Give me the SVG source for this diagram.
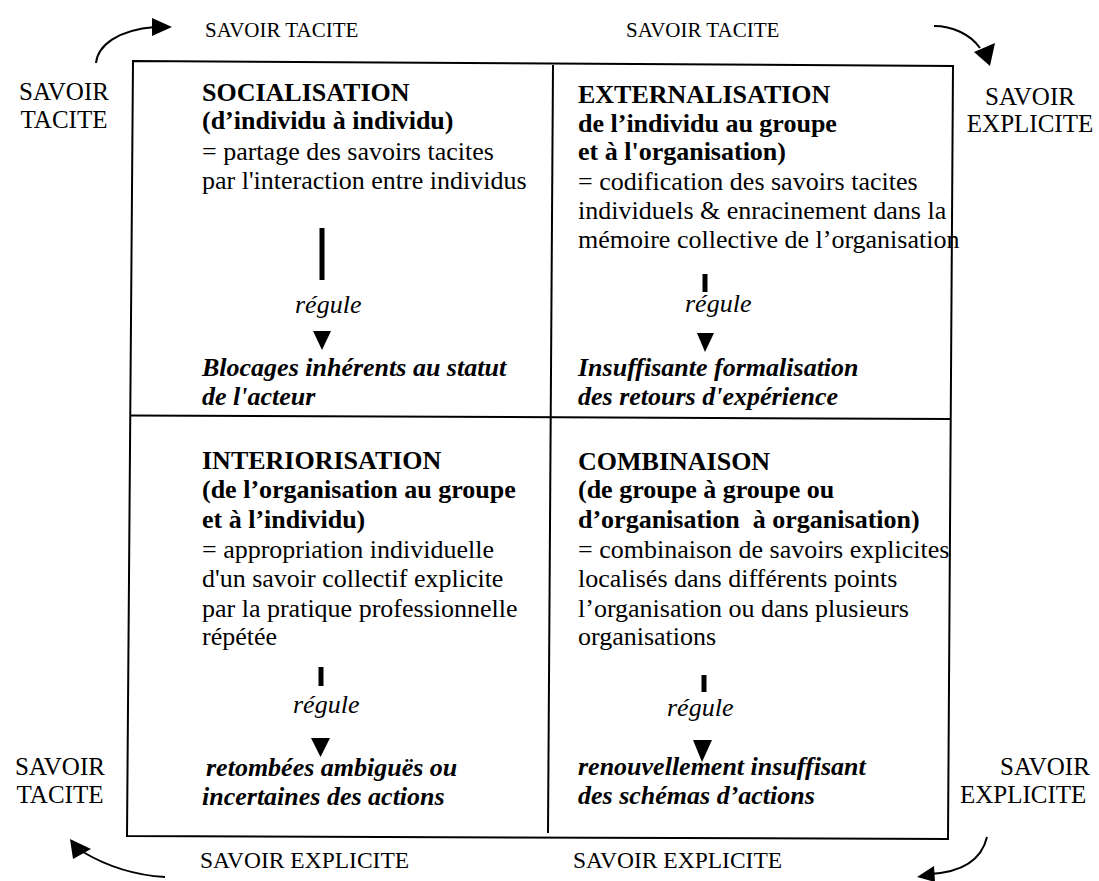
<svg xmlns="http://www.w3.org/2000/svg" width="1099" height="881" viewBox="0 0 1099 881">
<style>
text{font-family:"Liberation Serif","Times New Roman",serif;fill:#000}
.q{font-size:26px}
.b{font-weight:bold}
.i{font-style:italic}
.lab{font-size:21px}
.labb{font-size:23.5px}
.side{font-size:25px}
.frame{fill:none;stroke:#000;stroke-width:2}
.arc{fill:none;stroke:#000;stroke-width:2}
.bar{stroke:#000;stroke-width:5}
.pre{white-space:pre}
</style>
<rect width="1099" height="881" fill="#fff"/>
<g id="frame">
<polygon class="frame" points="133,61 953,66 948,839 127,836"/>
<line class="frame" x1="553" y1="65" x2="548" y2="833"/>
<line class="frame" x1="130" y1="415.5" x2="951" y2="419"/>
</g>
<g id="labels">
<text class="lab" x="205" y="37">SAVOIR TACITE</text>
<text class="lab" x="626" y="37">SAVOIR TACITE</text>
<text class="side" x="64" y="100" text-anchor="middle">SAVOIR</text>
<text class="side" x="64" y="128" text-anchor="middle">TACITE</text>
<text class="side" x="1030" y="105" text-anchor="middle">SAVOIR</text>
<text class="side" x="1030" y="132" text-anchor="middle">EXPLICITE</text>
<text class="side" x="60" y="775" text-anchor="middle">SAVOIR</text>
<text class="side" x="60" y="803" text-anchor="middle">TACITE</text>
<text class="side" x="1000" y="775">SAVOIR</text>
<text class="side" x="960" y="803">EXPLICITE</text>
<text class="labb" x="200" y="868">SAVOIR EXPLICITE</text>
<text class="labb" x="573" y="868">SAVOIR EXPLICITE</text>
</g>
<g id="socialisation">
<text class="q b" x="202" y="101">SOCIALISATION</text>
<text class="q b" x="202" y="129">(d’individu à individu)</text>
<text class="q" x="202" y="160">= partage des savoirs tacites</text>
<text class="q" x="202" y="189">par l'interaction entre individus</text>
<text class="q i" x="295" y="313">régule</text>
<text class="q b i" x="202" y="376">Blocages inhérents au statut</text>
<text class="q b i" x="202" y="405">de l'acteur</text>
</g>
<g id="externalisation">
<text class="q b" x="578" y="103">EXTERNALISATION</text>
<text class="q b" x="578" y="132">de l’individu au groupe</text>
<text class="q b" x="578" y="160">et à l'organisation)</text>
<text class="q" x="578" y="190">= codification des savoirs tacites</text>
<text class="q" x="578" y="219">individuels &amp; enracinement dans la</text>
<text class="q" x="578" y="248">mémoire collective de l’organisation</text>
<text class="q i" x="685" y="312">régule</text>
<text class="q b i" x="578" y="376">Insuffisante formalisation</text>
<text class="q b i" x="578" y="405">des retours d'expérience</text>
</g>
<g id="interiorisation">
<text class="q b" x="202" y="469">INTERIORISATION</text>
<text class="q b" x="202" y="498">(de l’organisation au groupe</text>
<text class="q b" x="202" y="528">et à l’individu)</text>
<text class="q" x="202" y="558">= appropriation individuelle</text>
<text class="q" x="202" y="587">d'un savoir collectif explicite</text>
<text class="q" x="202" y="617">par la pratique professionnelle</text>
<text class="q" x="202" y="645">répétée</text>
<text class="q i" x="293" y="713">régule</text>
<text class="q b i" x="206" y="776">retombées ambiguës ou</text>
<text class="q b i" x="202" y="805">incertaines des actions</text>
</g>
<g id="combinaison">
<text class="q b" x="578" y="470">COMBINAISON</text>
<text class="q b" x="578" y="498">(de groupe à groupe ou</text>
<text class="q b pre" x="578" y="528">d’organisation  à organisation)</text>
<text class="q" x="578" y="558">= combinaison de savoirs explicites</text>
<text class="q" x="578" y="587">localisés dans différents points</text>
<text class="q" x="578" y="617">l’organisation ou dans plusieurs</text>
<text class="q" x="578" y="645">organisations</text>
<text class="q i" x="667" y="716">régule</text>
<text class="q b i" x="578" y="775">renouvellement insuffisant</text>
<text class="q b i" x="578" y="804">des schémas d’actions</text>
</g>
<g id="connectors">
<line class="bar" x1="322" y1="228" x2="322" y2="280"/>
<polygon points="313,331 331,331 322,350"/>
<line class="bar" x1="705" y1="274" x2="705" y2="292"/>
<polygon points="697,333 714,333 705,352"/>
<line class="bar" x1="321" y1="667" x2="321" y2="686"/>
<polygon points="311,738 330,738 320.5,757"/>
<line class="bar" x1="704" y1="675" x2="704" y2="692"/>
<polygon points="693,740 712,740 702,762"/>
<path class="arc" d="M96,63 C98,45 118,30 155,27"/>
<polygon points="152,18 172,27 152,36"/>
<path class="arc" d="M934,26 C952,26 970,34 980,48"/>
<polygon points="974,52 995,43 990,66"/>
<path class="arc" d="M165,877 C130,875 105,865 83,852"/>
<polygon points="70,839 73,859 91,849"/>
<path class="arc" d="M987,837 C982,858 965,872 930,874"/>
<polygon points="917,877 934,866 935,882"/>
</g>
</svg>
